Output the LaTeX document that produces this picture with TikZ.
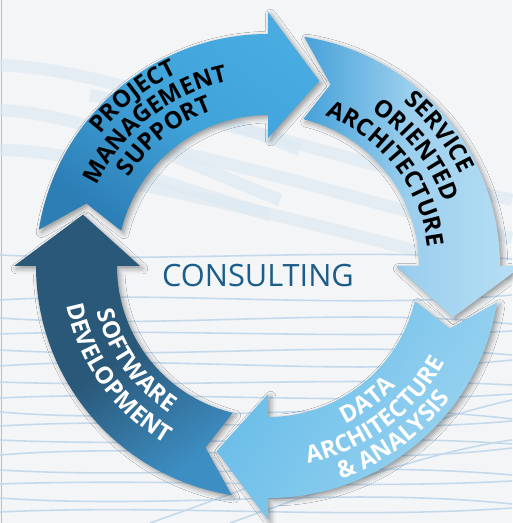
\documentclass[tikz,border=0pt]{standalone}
\usepackage{fontspec}
\setsansfont{Open Sans}
\usepackage{xcolor}
\usepackage{tikz}
\usetikzlibrary{decorations.text, shadows.blur}

\definecolor{bgcol}{HTML}{F3F5F7}
\definecolor{bandcol}{HTML}{DCE8F2}
\definecolor{wavecol}{HTML}{C4DAEC}
\definecolor{edgecol}{HTML}{AFC1D6}
\definecolor{pmlight}{HTML}{48ACE1}
\definecolor{pmmid}{HTML}{3FA2D9}
\definecolor{pmdark}{HTML}{2C7EB5}
\definecolor{soadark}{HTML}{46A1D9}
\definecolor{soalight}{HTML}{B9DFF5}
\definecolor{datalight}{HTML}{9DD4F1}
\definecolor{datadark}{HTML}{66BCE8}
\definecolor{sddark}{HTML}{2A5879}
\definecolor{sdlight}{HTML}{3D8EC3}
\definecolor{consultcol}{HTML}{1B5C88}

% one arrow of the cycle, #1 = angle of the head base
\newcommand{\cyclearrow}[2]{%
  \path[#2] (#1+81:232) arc[start angle=#1+81, end angle=#1, radius=232]
    -- (#1:254) -- (#1-15.5:192) -- (#1:128) -- (#1:151)
    arc[start angle=#1, end angle=#1+76.5, radius=151]
    -- (#1+71:192) -- cycle;}

% one line of text along an arc
\newcommand{\arcfont}{\sffamily\bfseries\fontsize{13.5pt}{13.5pt}\selectfont}
\newcommand{\arclabel}[5]{%
  \path[decorate, decoration={text along path, text align=center,
    text={|\arcfont\color{#4}|#5}}]
    (#2:#1) arc[start angle=#2, end angle=#3, radius=#1];}

\begin{document}
\begin{tikzpicture}[
		x=0.02cm, y=0.02cm,
		band/.style={draw=bandcol, line width=7pt, opacity=0.6},
		wave/.style={draw=wavecol, line width=0.9pt},
		arrowshadow/.style={blur shadow={shadow xshift=1.5pt, shadow yshift=-1.5pt, shadow opacity=40, shadow blur radius=3pt}},
		pm/.style={arrowshadow, top color=pmlight, bottom color=pmdark, middle color=pmmid, shading angle=-35},
		soa/.style={arrowshadow, left color=soadark, right color=soalight, middle color=soalight!75!soadark},
		data/.style={arrowshadow, left color=datadark, right color=datalight, shading angle=60},
		sd/.style={arrowshadow, top color=sddark, bottom color=sdlight, middle color=sddark, shading angle=35}
		]
		
		% Background
		\useasboundingbox[fill=bgcol] (-268,-257) rectangle (244,266);
		\begin{scope}[shift={(-268,266)}, yscale=-1]
			\draw[edgecol, line width=1pt] (1.5,0) -- (1.5,523);
			\draw[band] (0,65) .. controls (100,70) and (200,110) .. (300,150);
			\draw[band] (0,110) .. controls (90,115) and (180,160) .. (280,200);
			\draw[band] (0,150) .. controls (80,150) and (170,185) .. (270,215);
			\draw[band] (90,95) .. controls (230,120) and (400,175) .. (512,200);
			\draw[band] (90,135) .. controls (240,160) and (410,215) .. (512,238);
			\draw[band] (90,175) .. controls (250,205) and (410,250) .. (512,275);
			\foreach \y/\d in {255/8, 300/-10, 318/12, 334/-6, 350/10, 366/-12, 382/6,
				398/-8, 412/14, 426/-10, 440/8, 455/-14, 470/10, 484/-6, 498/12, 512/-8}
				\draw[wave] (0,\y) .. controls (170,\y+\d) and (340,\y-\d) .. (512,\y+0.5*\d);
			\draw[wave] (150,523) .. controls (300,470) and (420,420) .. (512,400);
			\draw[wave] (230,523) .. controls (350,480) and (440,450) .. (512,440);
		\end{scope}
		
		% Arrows
		\cyclearrow{90}{pm}
		\cyclearrow{0}{soa}
		\cyclearrow{-90}{data}
		\cyclearrow{180}{sd}
		
		% Project management support
		\arclabel{213}{178.5}{78.5}{black}{PROJECT}
		\arclabel{189}{178.5}{78.5}{black}{MANAGEMENT}
		\arclabel{165}{178.5}{78.5}{black}{SUPPORT}
		
		% Service oriented architecture
		\arclabel{213}{88}{-12}{black}{SERVICE}
		\arclabel{187}{88}{-12}{black}{ORIENTED}
		\arclabel{161}{88}{-12}{black}{ARCHITECTURE}
		
		% Data architecture and analysis
		\arclabel{176}{-103.5}{-3.5}{white}{DATA}
		\arclabel{201}{-103.5}{-3.5}{white}{ARCHITECTURE}
		\arclabel{225}{-103.5}{-3.5}{white}{{\&} ANALYSIS}
		
		% Software development
		\arclabel{177}{165.5}{265.5}{white}{SOFTWARE}
		\arclabel{205}{165.5}{265.5}{white}{DEVELOPMENT}
		
		% Centre
		\node[font=\sffamily\fontsize{17.5pt}{17.5pt}\selectfont, text=consultcol] (consult) at (-10,-10) {CONSULTING};
		
	\end{tikzpicture}
\end{document}
